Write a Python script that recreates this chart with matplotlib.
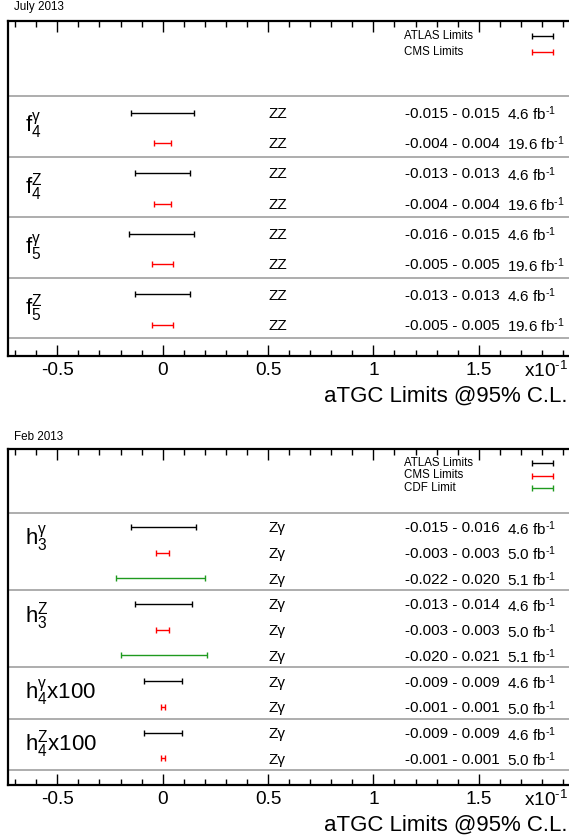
import numpy as np
import matplotlib
matplotlib.use('Agg')
import matplotlib.pyplot as plt
import matplotlib.ticker as mticker
import matplotlib.transforms as mtransforms

plt.rcParams['font.family'] = ['Liberation Sans', 'DejaVu Sans']
plt.rcParams['mathtext.fontset'] = 'custom'
plt.rcParams['mathtext.rm'] = 'Liberation Sans'
plt.rcParams['mathtext.it'] = 'Liberation Sans:italic'
plt.rcParams['mathtext.bf'] = 'Liberation Sans:bold'

HYPH = '\u2010'  # plain hyphen, mathtext would turn '-' into a wide minus

# July 2013: ZZ neutral couplings
zz_params = [r'$\mathregular{f_4^γ}$', r'$\mathregular{f_4^Z}$',
             r'$\mathregular{f_5^γ}$', r'$\mathregular{f_5^Z}$']
zz_atlas_lo = [-0.015, -0.013, -0.016, -0.013]
zz_atlas_hi = [0.015, 0.013, 0.015, 0.013]
zz_cms_lo = [-0.004, -0.004, -0.005, -0.005]
zz_cms_hi = [0.004, 0.004, 0.005, 0.005]
zz_names = ['ATLAS Limits', 'CMS Limits']
zz_lumis = [4.6, 19.6]

# Feb 2013: Zgamma neutral couplings
zg_params = [r'$\mathregular{h_3^γ}$', r'$\mathregular{h_3^Z}$',
             r'$\mathregular{h_4^γx100}$', r'$\mathregular{h_4^Zx100}$']
zg_atlas_lo = [-0.015, -0.013, -0.009, -0.009]
zg_atlas_hi = [0.016, 0.014, 0.009, 0.009]
zg_cms_lo = [-0.003, -0.003, -0.001, -0.001]
zg_cms_hi = [0.003, 0.003, 0.001, 0.001]
zg_cdf_lo = [-0.022, -0.020, None, None]
zg_cdf_hi = [0.020, 0.021, None, None]
zg_names = ['ATLAS Limits', 'CMS Limits', 'CDF Limit']
zg_lumis = [4.6, 5.0, 5.1]

colors = ['black', '#ff0000', '#1f9a1f']

fig = plt.figure(figsize=(5.69, 8.40), dpi=100)
W, H = 569, 840


def draw_panel(ax, params, los, his, names, lumis, channel, legend_px):
    height_px = ax.get_position().height * H
    rows = []
    groups = []
    for i, p in enumerate(params):
        members = [j for j in range(len(names)) if los[j][i] is not None]
        groups.append((p, len(members)))
        for j in members:
            rows.append((j, los[j][i], his[j][i]))
    n = len(rows)
    ys = n - np.arange(n) - 0.5

    txt_tr = mtransforms.offset_copy(ax.transData, fig=fig, y=-2, units='points')

    for j in range(len(names)):
        idx = [k for k, r in enumerate(rows) if r[0] == j]
        lo = np.array([rows[k][1] for k in idx])
        hi = np.array([rows[k][2] for k in idx])
        mid = (lo + hi) / 2
        ax.errorbar(mid, ys[idx] - 0.05, xerr=(hi - lo) / 2, fmt='none',
                    ecolor=colors[j], elinewidth=1, capsize=2.5, capthick=1)
        for k in idx:
            ax.text(0.05, ys[k], channel, fontsize=11, va='center', transform=txt_tr)
            ax.text(0.115, ys[k], f'{rows[k][1]:.3f} - {rows[k][2]:.3f}',
                    fontsize=11, va='center', transform=txt_tr)
            ax.text(0.1634, ys[k], f'{lumis[j]:.1f} fb$^{{{HYPH}1}}$',
                    fontsize=11, va='center', transform=txt_tr)

    top = n
    for p, k in groups:
        ax.axhline(top, color='#a0a0a0', lw=1.2)
        ax.text(-0.0655, top - 1, p, fontsize=16, va='center')
        top -= k
    ax.axhline(0, color='#a0a0a0', lw=1.2)

    # legend, ROOT style: text on the left, sample on the right
    for j, name in enumerate(names):
        yl = 1 - (legend_px[0] + j * legend_px[1]) / height_px
        ax.text(0.7034, yl, name, fontsize=8.3, va='center', transform=ax.transAxes)
        ax.errorbar(0.9489, yl, xerr=0.0187, fmt='none', ecolor=colors[j],
                    elinewidth=1, capsize=2.5, capthick=1, transform=ax.transAxes)

    ax.set_xlim(-0.07342, 0.19378)
    ax.set_ylim(-0.58, n + 2.47)
    ax.set_yticks([])
    ax.xaxis.set_major_locator(mticker.MultipleLocator(0.05))
    ax.xaxis.set_minor_locator(mticker.MultipleLocator(0.01))
    ax.xaxis.set_major_formatter(mticker.FuncFormatter(lambda v, pos: f'{v * 10:g}'))
    ax.tick_params(axis='x', which='both', direction='in', top=True, bottom=True,
                   width=1, labelsize=13.7, pad=4.5)
    ax.tick_params(axis='x', which='major', length=8)
    ax.tick_params(axis='x', which='minor', length=4)
    for side in ['left', 'bottom', 'top']:
        ax.spines[side].set_linewidth(1.6)
    ax.spines['right'].set_visible(False)

    ax.annotate(f'x10$^{{{HYPH}1}}$', xy=(0.9165, 0), xycoords='axes fraction',
                xytext=(0, -10.5), textcoords='offset points', fontsize=13.7,
                va='center', ha='left')
    ax.annotate('aTGC Limits @95% C.L.', xy=(0.9929, 0), xycoords='axes fraction',
                xytext=(0, -29), textcoords='offset points', fontsize=16,
                va='center', ha='right')


ax1 = fig.add_axes([8 / W, 1 - 356 / H, 563 / W, 335 / H])
draw_panel(ax1, zz_params, [zz_atlas_lo, zz_cms_lo], [zz_atlas_hi, zz_cms_hi],
           zz_names, zz_lumis, 'ZZ', (14.7, 16.3))
fig.text(14 / W, 1 - 7 / H, 'July 2013', fontsize=8.4, va='center')

ax2 = fig.add_axes([8 / W, 1 - 785 / H, 563 / W, 336 / H])
draw_panel(ax2, zg_params, [zg_atlas_lo, zg_cms_lo, zg_cdf_lo],
           [zg_atlas_hi, zg_cms_hi, zg_cdf_hi], zg_names, zg_lumis, 'Zγ', (13.7, 12.8))
fig.text(14 / W, 1 - 437 / H, 'Feb 2013', fontsize=8.4, va='center')

fig.savefig('out.png', dpi=100)
